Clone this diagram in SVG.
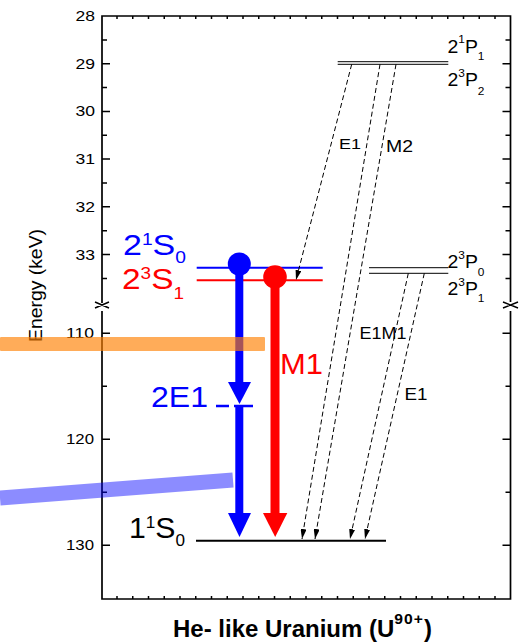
<svg xmlns="http://www.w3.org/2000/svg" width="523" height="643" viewBox="0 0 523 643">
<defs>
<marker id="ah" markerUnits="userSpaceOnUse" markerWidth="10" markerHeight="6" refX="10" refY="3" orient="auto"><path d="M0,0 L10,3 L0,6 z" fill="#000"/></marker>
</defs>
<style>
.ax{stroke:#000;stroke-width:1.7;fill:none}
.tk{stroke:#000;stroke-width:1.5;fill:none}
.tl{font-family:"Liberation Sans",Arial,sans-serif;font-size:14px;fill:#000;text-anchor:end}
.lab{font-family:"Liberation Sans",Arial,sans-serif;fill:#000}
.big{font-family:"Liberation Sans",Arial,sans-serif;font-size:30px}
.dash{stroke:#000;stroke-width:1;stroke-dasharray:5 3;fill:none;marker-end:url(#ah)}
.lvl{stroke:#000;stroke-width:1;fill:none}
</style>
<rect width="523" height="643" fill="#fff"/>

<g id="axes">
<path class="ax" d="M102,303 V16 H510.5 V302 M102,311 V599 H510.5 V311"/>
<path class="tk" d="M95,302 L109,308 M95,308 L109,302 M503,302 L518,308 M503,308 L518,302"/>
<path class="tk" d="M102,63.7h8M102,111.4h8M102,159.1h8M102,206.8h8M102,254.5h8M102,39.9h5M102,87.6h5M102,135.3h5M102,183h5M102,230.7h5M102,278.4h5M102,333.3h8M102,439.3h8M102,545.3h8M102,386.3h5M102,492.3h5"/>
<path class="tk" d="M510.5,63.7h-8M510.5,111.4h-8M510.5,159.1h-8M510.5,206.8h-8M510.5,254.5h-8M510.5,39.9h-5M510.5,87.6h-5M510.5,135.3h-5M510.5,183h-5M510.5,230.7h-5M510.5,278.4h-5M510.5,333.3h-8M510.5,439.3h-8M510.5,545.3h-8M510.5,386.3h-5M510.5,492.3h-5"/>
<path class="tk" stroke-width="1" d="M117,16v3M132.75,16v3M148.5,16v3M164.25,16v3M180,16v3M195.75,16v3M211.5,16v3M227.25,16v3M243,16v3M258.75,16v3M274.5,16v3M290.25,16v3M306,16v3M321.75,16v3M337.5,16v3M353.25,16v3M369,16v3M384.75,16v3M400.5,16v3M416.25,16v3M432,16v3M447.75,16v3M463.5,16v3M479.25,16v3M495,16v3
M117,599v-3M132.75,599v-3M148.5,599v-3M164.25,599v-3M180,599v-3M195.75,599v-3M211.5,599v-3M227.25,599v-3M243,599v-3M258.75,599v-3M274.5,599v-3M290.25,599v-3M306,599v-3M321.75,599v-3M337.5,599v-3M353.25,599v-3M369,599v-3M384.75,599v-3M400.5,599v-3M416.25,599v-3M432,599v-3M447.75,599v-3M463.5,599v-3M479.25,599v-3M495,599v-3"/>
<g class="tl">
<text x="95" y="21" textLength="19.5" lengthAdjust="spacingAndGlyphs">28</text>
<text x="95" y="68.7" textLength="19.5" lengthAdjust="spacingAndGlyphs">29</text>
<text x="95" y="116.4" textLength="19.5" lengthAdjust="spacingAndGlyphs">30</text>
<text x="95" y="164.1" textLength="19.5" lengthAdjust="spacingAndGlyphs">31</text>
<text x="95" y="211.8" textLength="19.5" lengthAdjust="spacingAndGlyphs">32</text>
<text x="95" y="259.5" textLength="19.5" lengthAdjust="spacingAndGlyphs">33</text>
<text x="94" y="338" textLength="28" lengthAdjust="spacingAndGlyphs">110</text>
<text x="94" y="444" textLength="28" lengthAdjust="spacingAndGlyphs">120</text>
<text x="94" y="550" textLength="28" lengthAdjust="spacingAndGlyphs">130</text>
</g>
<text class="lab" font-size="18" text-anchor="middle" transform="translate(42,285.5) rotate(-90)" textLength="113" lengthAdjust="spacingAndGlyphs">Energy (keV)</text>
<text class="lab" x="173" y="636.5" font-size="23" font-weight="bold" textLength="259" lengthAdjust="spacingAndGlyphs">He- like Uranium (U<tspan font-size="15" dy="-13" letter-spacing="1">90+</tspan><tspan dy="13">)</tspan></text>
</g>

<g id="level-2P-upper">
<path class="lvl" d="M337.7,61.7H448.3M337.7,64.3H448.3"/>
<text class="lab" x="447.5" y="52.7" font-size="18" textLength="37" lengthAdjust="spacingAndGlyphs">2<tspan font-size="11" dy="-9.5">1</tspan><tspan dy="9.5">P</tspan><tspan font-size="11" dy="7.3">1</tspan></text>
<text class="lab" x="447.5" y="86" font-size="18" textLength="37" lengthAdjust="spacingAndGlyphs">2<tspan font-size="11" dy="-9">3</tspan><tspan dy="9">P</tspan><tspan font-size="11" dy="9">2</tspan></text>
</g>

<g id="level-2P-lower">
<path class="lvl" d="M369,267.7H448.3M369,273.3H448.3"/>
<text class="lab" x="447.5" y="268" font-size="18" textLength="37" lengthAdjust="spacingAndGlyphs">2<tspan font-size="11" dy="-9">3</tspan><tspan dy="9">P</tspan><tspan font-size="11" dy="8">0</tspan></text>
<text class="lab" x="447.5" y="295" font-size="18" textLength="37" lengthAdjust="spacingAndGlyphs">2<tspan font-size="11" dy="-9">3</tspan><tspan dy="9">P</tspan><tspan font-size="11" dy="7">1</tspan></text>
</g>

<g id="level-21S0">
<line x1="196.7" y1="267.7" x2="322.7" y2="267.7" stroke="#00f" stroke-width="2"/>
<text class="big" x="123" y="255" fill="#00f" textLength="63" lengthAdjust="spacingAndGlyphs">2<tspan font-size="17" dy="-10">1</tspan><tspan dy="10">S</tspan><tspan font-size="17" dy="8">0</tspan></text>
</g>

<g id="level-23S1">
<line x1="196.7" y1="280.3" x2="322.7" y2="280.3" stroke="#f00" stroke-width="2"/>
<text class="big" x="122" y="289" fill="#f00" textLength="62" lengthAdjust="spacingAndGlyphs">2<tspan font-size="17" dy="-10">3</tspan><tspan dy="10">S</tspan><tspan font-size="17" dy="10">1</tspan></text>
</g>

<g id="level-11S0">
<line x1="196" y1="540.7" x2="386" y2="540.7" stroke="#000" stroke-width="2"/>
<text class="big" x="129" y="538" fill="#000" textLength="56" lengthAdjust="spacingAndGlyphs">1<tspan font-size="17" dy="-10">1</tspan><tspan dy="10">S</tspan><tspan font-size="17" dy="8">0</tspan></text>
</g>

<g id="connectors">
<line class="dash" x1="351.7" y1="64.3" x2="296" y2="280"/>
<line class="dash" x1="380" y1="64.3" x2="302" y2="539"/>
<line class="dash" x1="396" y1="64.3" x2="315" y2="539"/>
<line class="dash" x1="408.3" y1="273.3" x2="350" y2="539"/>
<line class="dash" x1="424.3" y1="273.3" x2="365" y2="539"/>
<text class="lab" x="339" y="149" font-size="15" textLength="22" lengthAdjust="spacingAndGlyphs">E1</text>
<text class="lab" x="386" y="151.7" font-size="16" textLength="27" lengthAdjust="spacingAndGlyphs">M2</text>
<text class="lab" x="359.5" y="339.3" font-size="16" textLength="47" lengthAdjust="spacingAndGlyphs">E1M1</text>
<text class="lab" x="404.5" y="400" font-size="16" textLength="23" lengthAdjust="spacingAndGlyphs">E1</text>
</g>

<g id="decay-2E1">
<circle cx="239.3" cy="264" r="11.5" fill="#00f"/>
<rect x="235.3" y="264" width="8" height="119" fill="#00f"/>
<polygon points="228,382 251,382 239.5,404" fill="#00f"/>
<path d="M216,406H229M234,406H253" stroke="#00f" stroke-width="2.5"/>
<rect x="235.3" y="406" width="8" height="108" fill="#00f"/>
<polygon points="228,513 251,513 239.5,537" fill="#00f"/>
<text class="big" x="151" y="407" fill="#00f" textLength="57" lengthAdjust="spacingAndGlyphs">2E1</text>
</g>

<g id="decay-M1">
<circle cx="275" cy="277" r="11.8" fill="#f00"/>
<rect x="270.5" y="277" width="9" height="237" fill="#f00"/>
<polygon points="263,513 287.3,513 275.2,537" fill="#f00"/>
<text class="big" x="280" y="374" fill="#f00" textLength="43" lengthAdjust="spacingAndGlyphs">M1</text>
</g>

<g id="bands">
<rect x="0" y="337" width="265" height="14" rx="1" fill="#ff7f00" fill-opacity="0.65"/>
<line x1="0" y1="498" x2="233" y2="480" stroke="#0000ff" stroke-opacity="0.45" stroke-width="15"/>
</g>
</svg>
